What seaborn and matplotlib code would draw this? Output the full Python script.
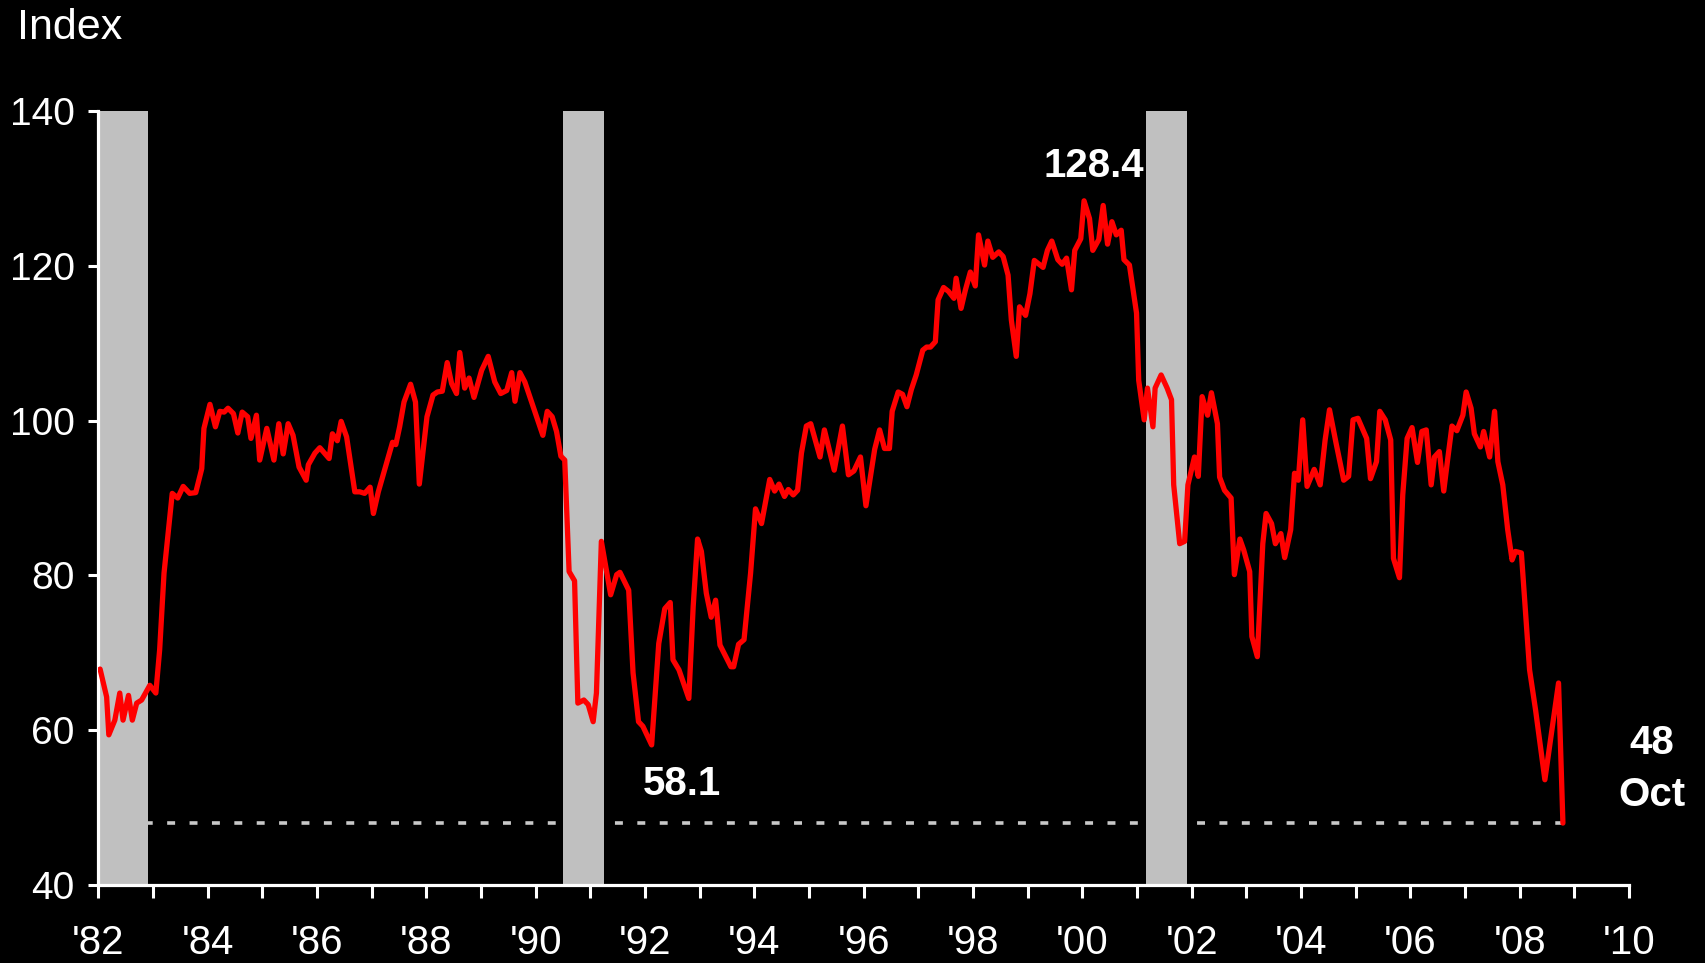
import matplotlib
matplotlib.use("Agg")
import matplotlib.pyplot as plt
import seaborn as sns
import pandas as pd

# index readings (fractional year, value)
dates = [1982.03, 1982.15, 1982.19, 1982.30, 1982.39, 1982.45, 1982.55, 1982.62, 1982.70, 1982.79,
         1982.94, 1983.05, 1983.12, 1983.20, 1983.35, 1983.45, 1983.55, 1983.67, 1983.78, 1983.89,
         1983.93, 1984.04, 1984.14, 1984.22, 1984.30, 1984.37, 1984.47, 1984.55, 1984.63, 1984.73,
         1984.79, 1984.89, 1984.95, 1985.08, 1985.21, 1985.30, 1985.38, 1985.47, 1985.56, 1985.67,
         1985.80, 1985.84, 1985.96, 1986.05, 1986.22, 1986.28, 1986.37, 1986.44, 1986.54, 1986.69,
         1986.78, 1986.87, 1986.97, 1987.03, 1987.12, 1987.27, 1987.38, 1987.44, 1987.51, 1987.59,
         1987.71, 1987.80, 1987.87, 1987.94, 1988.01, 1988.12, 1988.20, 1988.29, 1988.38, 1988.46,
         1988.55, 1988.61, 1988.70, 1988.78, 1988.87, 1989.01, 1989.13, 1989.25, 1989.36, 1989.47,
         1989.56, 1989.62, 1989.71, 1989.80, 1990.13, 1990.21, 1990.30, 1990.38, 1990.46, 1990.53,
         1990.61, 1990.71, 1990.77, 1990.88, 1990.96, 1991.05, 1991.11, 1991.20, 1991.37, 1991.48,
         1991.54, 1991.70, 1991.78, 1991.88, 1991.96, 1992.12, 1992.25, 1992.36, 1992.46, 1992.51,
         1992.62, 1992.80, 1992.88, 1992.96, 1993.03, 1993.12, 1993.21, 1993.29, 1993.37, 1993.57,
         1993.62, 1993.71, 1993.81, 1993.93, 1994.02, 1994.13, 1994.28, 1994.37, 1994.45, 1994.55,
         1994.62, 1994.71, 1994.79, 1994.86, 1994.95, 1995.03, 1995.20, 1995.28, 1995.46, 1995.61,
         1995.72, 1995.82, 1995.94, 1996.04, 1996.20, 1996.29, 1996.38, 1996.47, 1996.52, 1996.63,
         1996.71, 1996.79, 1996.87, 1996.96, 1997.08, 1997.15, 1997.22, 1997.31, 1997.36, 1997.46,
         1997.55, 1997.65, 1997.69, 1997.78, 1997.86, 1997.95, 1998.04, 1998.10, 1998.21, 1998.27,
         1998.36, 1998.47, 1998.55, 1998.64, 1998.70, 1998.79, 1998.85, 1998.96, 1999.04, 1999.12,
         1999.28, 1999.36, 1999.44, 1999.55, 1999.63, 1999.71, 1999.80, 1999.86, 1999.97, 2000.03,
         2000.13, 2000.19, 2000.30, 2000.38, 2000.46, 2000.54, 2000.62, 2000.71, 2000.76, 2000.86,
         2000.99, 2001.03, 2001.13, 2001.19, 2001.29, 2001.33, 2001.44, 2001.55, 2001.63, 2001.67,
         2001.78, 2001.87, 2001.93, 2002.05, 2002.12, 2002.19, 2002.29, 2002.36, 2002.47, 2002.51,
         2002.60, 2002.72, 2002.78, 2002.88, 2002.95, 2003.06, 2003.10, 2003.20, 2003.30, 2003.36,
         2003.46, 2003.53, 2003.63, 2003.70, 2003.81, 2003.88, 2003.95, 2004.03, 2004.11, 2004.24,
         2004.35, 2004.44, 2004.52, 2004.64, 2004.78, 2004.87, 2004.95, 2005.04, 2005.20, 2005.27,
         2005.38, 2005.44, 2005.54, 2005.64, 2005.69, 2005.80, 2005.86, 2005.94, 2006.03, 2006.13,
         2006.21, 2006.29, 2006.38, 2006.44, 2006.53, 2006.61, 2006.68, 2006.76, 2006.85, 2006.96,
         2007.02, 2007.11, 2007.17, 2007.28, 2007.34, 2007.45, 2007.54, 2007.60, 2007.69, 2007.78,
         2007.86, 2007.92, 2008.03, 2008.18, 2008.29, 2008.46, 2008.71, 2008.79]

index_values = [67.9, 64.3, 59.4, 61.3, 64.8, 61.3, 64.5, 61.3, 63.5, 63.9,
                65.8, 64.8, 70.4, 80.3, 90.6, 90.0, 91.5, 90.6, 90.7, 93.8,
                99.0, 102.1, 99.2, 101.2, 101.1, 101.6, 100.9, 98.4, 101.1, 100.5,
                97.7, 100.7, 94.9, 99.0, 94.9, 99.6, 95.7, 99.6, 98.1, 94.0,
                92.3, 94.3, 95.8, 96.5, 95.1, 98.3, 97.4, 99.9, 97.9, 90.8,
                90.8, 90.6, 91.4, 88.0, 90.8, 94.5, 97.2, 96.9, 99.2, 102.4,
                104.7, 102.4, 91.8, 96.2, 100.5, 103.3, 103.7, 103.8, 107.5, 104.8,
                103.5, 108.8, 104.2, 105.5, 103.0, 106.5, 108.3, 105.0, 103.5, 103.9,
                106.2, 102.5, 106.2, 105.0, 98.1, 101.2, 100.5, 98.6, 95.4, 94.9,
                80.5, 79.3, 63.5, 63.9, 63.3, 61.1, 64.8, 84.4, 77.5, 80.1,
                80.4, 78.1, 67.4, 61.1, 60.5, 58.1, 71.2, 75.7, 76.5, 69.1,
                67.8, 64.1, 76.0, 84.7, 83.1, 77.7, 74.6, 76.8, 71.0, 68.2,
                68.2, 71.1, 71.7, 80.3, 88.6, 86.7, 92.4, 90.9, 91.8, 90.2,
                91.1, 90.4, 91.0, 95.8, 99.3, 99.6, 95.3, 98.8, 93.6, 99.3,
                93.0, 93.5, 95.3, 89.0, 96.3, 98.8, 96.4, 96.4, 101.2, 103.7,
                103.4, 101.8, 104.0, 105.9, 109.1, 109.5, 109.5, 110.2, 115.6, 117.2,
                116.7, 115.8, 118.4, 114.5, 116.9, 119.2, 117.4, 124.0, 120.1, 123.2,
                121.1, 121.8, 121.2, 118.8, 113.0, 108.3, 114.7, 113.6, 116.4, 120.7,
                119.8, 122.0, 123.2, 120.8, 120.2, 121.0, 116.9, 122.0, 123.5, 128.4,
                126.1, 122.0, 123.4, 127.8, 122.8, 125.7, 124.0, 124.6, 120.8, 120.1,
                113.9, 105.2, 100.1, 104.2, 99.2, 104.2, 105.9, 104.2, 102.7, 91.7,
                84.1, 84.4, 91.7, 95.3, 92.8, 103.1, 100.7, 103.6, 99.6, 92.7,
                91.0, 90.0, 80.1, 84.7, 83.3, 80.5, 72.1, 69.5, 84.1, 88.0,
                86.7, 84.1, 85.4, 82.3, 85.9, 93.2, 92.3, 100.1, 91.5, 93.7,
                91.7, 97.5, 101.4, 97.1, 92.3, 92.8, 100.1, 100.3, 97.7, 92.5,
                94.7, 101.2, 100.1, 97.5, 82.2, 79.7, 90.4, 97.7, 99.1, 94.6,
                98.6, 98.8, 91.7, 95.3, 96.0, 90.9, 94.9, 99.3, 98.7, 100.7,
                103.7, 101.6, 98.3, 96.6, 98.6, 95.3, 101.2, 94.7, 91.7, 85.9,
                82.0, 83.1, 82.9, 67.8, 62.6, 53.6, 66.1, 48.0]

recessions = [(1982.0, 1982.9), (1990.5, 1991.25), (2001.16, 2001.91)]
year_ticks = list(range(1982, 2011))
year_labels = ["'%02d" % (y % 100) if y % 2 == 0 else "" for y in year_ticks]
value_ticks = [40, 60, 80, 100, 120, 140]
last_month = "Oct"

df = pd.DataFrame({"date": dates, "index": index_values})

sns.set_theme(style="ticks")
plt.rcParams["font.family"] = ["Liberation Sans", "DejaVu Sans"]

fig = plt.figure(figsize=(17.06, 9.63), dpi=100, facecolor="black")
ax = fig.add_axes([0.0577, 0.081, 0.8972, 0.8037])
ax.set_facecolor("black")

# reference line at the latest reading
ax.plot([df["date"].iloc[0], df["date"].iloc[-1]], [df["index"].iloc[-1]] * 2,
        color="#C8C8C8", lw=2.6, linestyle=(0, (2.2, 4.0)), zorder=1)

for start, end in recessions:
    ax.axvspan(start, end, color="#C0C0C0", lw=0, zorder=2)

sns.lineplot(data=df, x="date", y="index", color="#FF0000", lw=3.8, ax=ax,
             estimator=None, sort=False, zorder=3)

ax.set_xlim(1982, 2010)
ax.set_ylim(40, 140)
ax.set_xticks(year_ticks)
ax.set_xticklabels(year_labels)
ax.set_yticks(value_ticks)
ax.set_xlabel("")
ax.set_ylabel("")

for side in ["top", "right"]:
    ax.spines[side].set_visible(False)
for side in ["left", "bottom"]:
    ax.spines[side].set_color("white")
    ax.spines[side].set_linewidth(2.3)

ax.tick_params(axis="x", colors="white", labelsize=29, length=9, width=2.2, pad=19, direction="out")
ax.tick_params(axis="y", colors="white", labelsize=28, length=7, width=2.2, pad=10, direction="out")

fig.text(17 / 1706, 1 - 39 / 963, "Index", color="white", fontsize=31, ha="left", va="baseline")

# annotations
peak = df.loc[df["index"].idxmax()]
ax.annotate("%.1f" % peak["index"], xy=(peak["date"], peak["index"]), xytext=(7, 17.5),
            textcoords="offset points", ha="center", va="baseline", color="white",
            fontsize=29, fontweight="bold")

early = df[df["date"] < 1995]
low = df.loc[early.loc[early["date"] > 1991.5, "index"].idxmin()]
ax.annotate("%.1f" % low["index"], xy=(low["date"], low["index"]), xytext=(22, -36),
            textcoords="offset points", ha="center", va="baseline", color="white",
            fontsize=29, fontweight="bold")

last = df.iloc[-1]
ax.annotate("%d" % round(last["index"]), xy=(last["date"], last["index"]), xytext=(64, 49.5),
            textcoords="offset points", ha="center", va="baseline", color="white",
            fontsize=29, fontweight="bold", annotation_clip=False)
ax.annotate(last_month, xy=(last["date"], last["index"]), xytext=(64, 12),
            textcoords="offset points", ha="center", va="baseline", color="white",
            fontsize=29, fontweight="bold", annotation_clip=False)

fig.savefig("out.png", dpi=100, facecolor="black")
